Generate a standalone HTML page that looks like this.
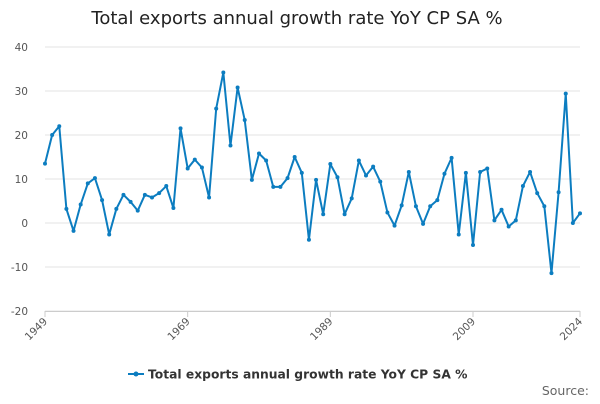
<!DOCTYPE html>
<html><head><meta charset="utf-8"><style>
body{margin:0;background:#fff;font-family:"DejaVu Sans",sans-serif;}
svg text{font-family:"DejaVu Sans",sans-serif;}
</style></head><body>
<svg id="chart" width="600" height="400">
<text x="297" y="24" text-anchor="middle" font-size="18" fill="#222">Total exports annual growth rate YoY CP SA %</text>
<g id="grid"></g><g id="yt"></g><g id="xt"></g><g id="series"></g>
<g>
<line x1="128" y1="374" x2="144" y2="374" stroke="#0c7dc0" stroke-width="2"/>
<circle cx="136" cy="374" r="2.5" fill="#0c7dc0"/>
<text x="148" y="378.5" font-size="12.3" font-weight="bold" fill="#333">Total exports annual growth rate YoY CP SA %</text>
</g>
<text x="589" y="395" text-anchor="end" font-size="12.5" fill="#666">Source:</text>
</svg>
<script>
const years=[];for(let y=1949;y<=2024;y++)years.push(y);
const values=[13.5,20,22,3.2,-1.8,4.2,9,10.2,5.2,-2.6,3.2,6.4,4.8,2.8,6.4,5.8,6.8,8.4,3.4,21.5,12.4,14.4,12.6,5.8,26,34.2,17.6,30.8,23.4,9.8,15.8,14.2,8.2,8.2,10.2,15,11.4,-3.8,9.8,2,13.4,10.4,2,5.6,14.2,10.8,12.8,9.4,2.4,-0.6,4,11.6,3.8,-0.2,3.8,5.2,11.2,14.8,-2.6,11.4,-5,11.6,12.4,0.6,3,-0.8,0.6,8.4,11.6,6.8,3.8,-11.4,7,29.4,0,2.2];
const yTicks=[-20,-10,0,10,20,30,40];
const xTicks=[1949,1969,1989,2009,2024];
const NS="http://www.w3.org/2000/svg";
const X=y=>45+(y-1949)*(535/75);
const Y=v=>223-v*4.4;
function mk(t,a,p){const e=document.createElementNS(NS,t);for(const k in a)e.setAttribute(k,a[k]);p.appendChild(e);return e;}
const grid=document.getElementById('grid'),yt=document.getElementById('yt'),xt=document.getElementById('xt'),s=document.getElementById('series');
yTicks.forEach(v=>{
const l=mk('line',{x1:45,x2:580,y1:Y(v),y2:Y(v),stroke:'#e3e3e3','stroke-width':1},grid);


const t=mk('text',{x:28,y:Y(v)+4,'text-anchor':'end','font-size':10.5,fill:'#555'},yt);t.textContent=v;


});
mk('line',{x1:45,x2:580,y1:311.5,y2:311.5,stroke:'#ccc'},grid);
xTicks.forEach(y=>{
mk('line',{x1:X(y),x2:X(y),y1:311,y2:317,stroke:'#ccc'},xt);
const t=mk('text',{x:X(y)+3,y:322,'text-anchor':'end','font-size':10.5,fill:'#555',transform:`rotate(-45 ${X(y)+3} 322)`},xt);t.textContent=y;


});
const p=mk('polyline',{points:values.map((v,i)=>X(years[i])+','+Y(v)).join(' '),fill:'none',stroke:'#0c7dc0','stroke-width':2,'stroke-linejoin':'round'},s);


values.forEach((v,i)=>{
const c=mk('circle',{cx:X(years[i]),cy:Y(v),r:2,fill:'#0c7dc0'},s);


});
</script>
</body></html>
